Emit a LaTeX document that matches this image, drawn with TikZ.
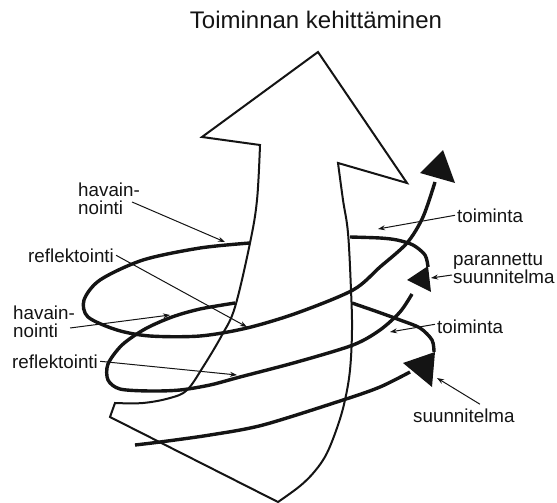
\documentclass[tikz,border=0pt]{standalone}
\usepackage{fontspec}
\setmainfont{Liberation Sans}
\usetikzlibrary{arrows.meta}
\definecolor{sketchink}{HTML}{141414}

\begin{document}
\begin{tikzpicture}[
  x=1pt,
  y=-1pt,
  every node/.style={font=\fontsize{18.8}{18}\selectfont, sketchink, inner sep=0pt},
  bigarrow/.style={sketchink, line width=2pt, fill=white},
  spiralline/.style={sketchink, line width=3.4pt},
  spiralhead/.style={sketchink, fill=sketchink, line width=0.6pt, line join=round},
  leaderline/.style={sketchink, line width=1pt, -{Stealth[length=7pt, width=5pt]}},
  notetext/.style={align=left}
]
  % ---- bounding box, same size as the scan
  \path (0,0) rectangle (557,503);

  % ---- title -------------------------------------------------------------
  \node[anchor=base, font=\fontsize{24}{28}\selectfont] (title) at (316,29)
    {Toiminnan kehittäminen};

  % ---- the big twisted arrow ---------------------------------------------
  \draw[bigarrow] (318,52) -- (202,137) -- (260,145)
    -- plot[smooth, tension=0.6] coordinates {(260,145) (257,200) (250,243)
       (235,307) (222,335) (203,367) (187,390) (170,398) (143,403) (115,403)}
    -- (110,417) -- (278,502)
    -- plot[smooth, tension=0.6] coordinates {(278,502) (300,486) (315,471)
       (327,453) (338,425) (345,400) (350,370) (352,330) (351,290) (348,233)
       (343,200) (338,163)}
    -- (407,183) -- cycle;

  % ---- spiral, first round ----------------------------------------------
  \draw[spiralline] plot[smooth] coordinates {(135,445) (160,442) (210,435)
    (263,425) (343,400) (380,387) (410,372)};
  \fill[spiralhead] (403,363) -- (435,352) -- (432,387) -- cycle;
  \draw[spiralline] plot[smooth] coordinates {(434,352) (432,340) (420,328)
    (400,320) (378,312) (352,303)};

  % ---- spiral, second round ---------------------------------------------
  \draw[spiralline] plot[smooth] coordinates {(235,303) (200,309) (172,317)
    (145,329) (122,345) (108,364) (108,380) (120,389) (150,391) (180,390)
    (210,385) (240,377) (297,362) (353,345) (380,330) (400,312) (412,294)};
  \fill[spiralhead] (407,280) -- (428,266) -- (431,292) -- cycle;
  \draw[spiralline] plot[smooth] coordinates {(428,267) (425,255) (413,245)
    (397,240) (380,238) (350,237)};

  % ---- spiral, third round ----------------------------------------------
  \draw[spiralline] plot[smooth] coordinates {(250,243) (200,248) (143,260)
    (100,280) (84,300) (88,317) (117,330) (150,336) (200,336) (247,328)
    (297,313) (353,290) (380,267) (407,243) (423,217) (435,182)};
  \fill[spiralhead] (443,150) -- (420,173) -- (455,183) -- cycle;

  % ---- labels ------------------------------------------------------------
  \node[notetext, anchor=west] (hav1) at (78,199) {havain-\\nointi};
  \node[anchor=base west] (refl1) at (28,262) {reflektointi};
  \node[notetext, anchor=west] (hav2) at (13,322) {havain-\\nointi};
  \node[anchor=base west] (refl2) at (12,368) {reflektointi};
  \node[anchor=base west] (toim1) at (457,222) {toiminta};
  \node[notetext, anchor=west] (par) at (453,269) {parannettu\\suunnitelma};
  \node[anchor=base west] (toim2) at (437,333) {toiminta};
  \node[anchor=base west] (suun) at (413,422) {suunnitelma};

  % ---- where the leaders point -------------------------------------------
  \coordinate (hav1-end) at (225,242);
  \coordinate (refl1-end) at (247,327);
  \coordinate (hav2-end) at (170,315);
  \coordinate (refl2-end) at (237,375);
  \coordinate (toim1-end) at (378,229);
  \coordinate (par-end) at (431,278);
  \coordinate (toim2-end) at (390,332);
  \coordinate (suun-end) at (437,378);

  \draw[leaderline] ([xshift=-8pt, yshift=-3pt]hav1.east) -- (hav1-end);
  \draw[leaderline] ([xshift=2pt]refl1.east) -- (refl1-end);
  \draw[leaderline] ([xshift=-5pt, yshift=-6pt]hav2.east) -- (hav2-end);
  \draw[leaderline] ([xshift=2pt]refl2.east) -- (refl2-end);
  \draw[leaderline] ([xshift=-2pt]toim1.west) -- (toim1-end);
  \draw[leaderline] ([xshift=-1pt, yshift=-6pt]par.west) -- (par-end);
  \draw[leaderline] ([xshift=-2pt, yshift=2pt]toim2.west) -- (toim2-end);
  \draw[leaderline] ([xshift=16pt, yshift=4pt]suun.north) -- (suun-end);
\end{tikzpicture}
\end{document}
